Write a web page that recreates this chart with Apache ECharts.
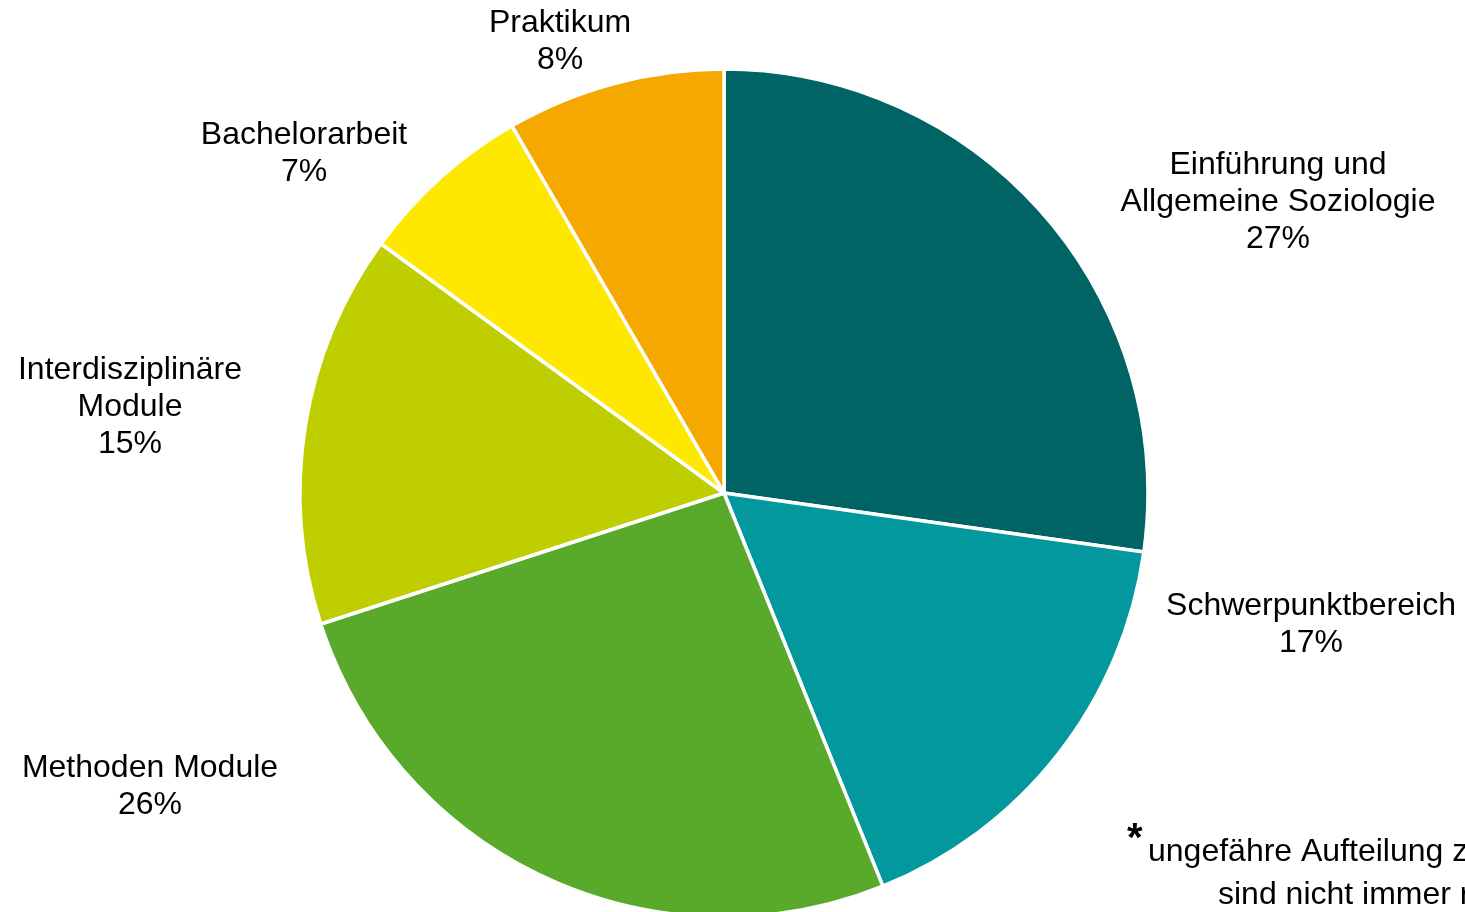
<!DOCTYPE html>
<html>
<head>
<meta charset="utf-8">
<script src="https://cdn.jsdelivr.net/npm/echarts@6/dist/echarts.min.js"></script>
<style>
html,body{margin:0;padding:0;background:#fff;}
#chart{width:1465px;height:912px;}
</style>
</head>
<body>
<div id="chart"></div>
<script>
const categories = ['Einführung und\nAllgemeine Soziologie', 'Schwerpunktbereich', 'Methoden Module', 'Interdisziplinäre\nModule', 'Bachelorarbeit', 'Praktikum'];
// slice sizes (they round to the printed 27/17/26/15/7/8 %)
const credits = [49, 30, 47, 27, 12, 15];
const colors = ['#006464', '#03989E', '#59AA2A', '#BECE00', '#FFE800', '#F5A800'];
const labelCenters = [[1278, 202], [1311, 625], [150, 787], [130, 407], [304, 154], [560, 42]];
const footnoteLines = ['ungefähre Aufteilung z', 'sind nicht immer r'];

const chart = echarts.init(document.getElementById('chart'), null, {renderer: 'canvas'});
const font = '"Liberation Sans", Arial, sans-serif';
chart.setOption({
  animation: false,
  backgroundColor: '#fff',
  series: [{
    type: 'pie',
    center: [724, 493],
    radius: [0, 424],
    startAngle: 90,
    clockwise: true,
    percentPrecision: 0,
    data: categories.map((n, i) => ({name: n, value: credits[i], itemStyle: {color: colors[i]}})),
    itemStyle: {borderColor: '#fff', borderWidth: 3.5},
    label: {
      show: true,
      position: 'outside',
      formatter: '{b}\n{d}%',
      fontFamily: font,
      fontSize: 32,
      lineHeight: 37,
      color: '#000',
      align: 'center'
    },
    labelLine: {show: false},
    labelLayout: function (p) {
      const c = labelCenters[p.dataIndex];
      return {x: c[0], y: c[1], align: 'center', verticalAlign: 'middle'};
    },
    emphasis: {disabled: true}
  }],
  graphic: [
    {type: 'text', left: 1127, top: 820, style: {text: '*', font: 'bold 40px ' + font, fill: '#000'}},
    {type: 'text', left: 1148, top: 836, style: {text: footnoteLines[0], font: '32px ' + font, fill: '#000'}},
    {type: 'text', left: 1218, top: 879, style: {text: footnoteLines[1], font: '32px ' + font, fill: '#000'}}
  ]
});
</script>
</body>
</html>
